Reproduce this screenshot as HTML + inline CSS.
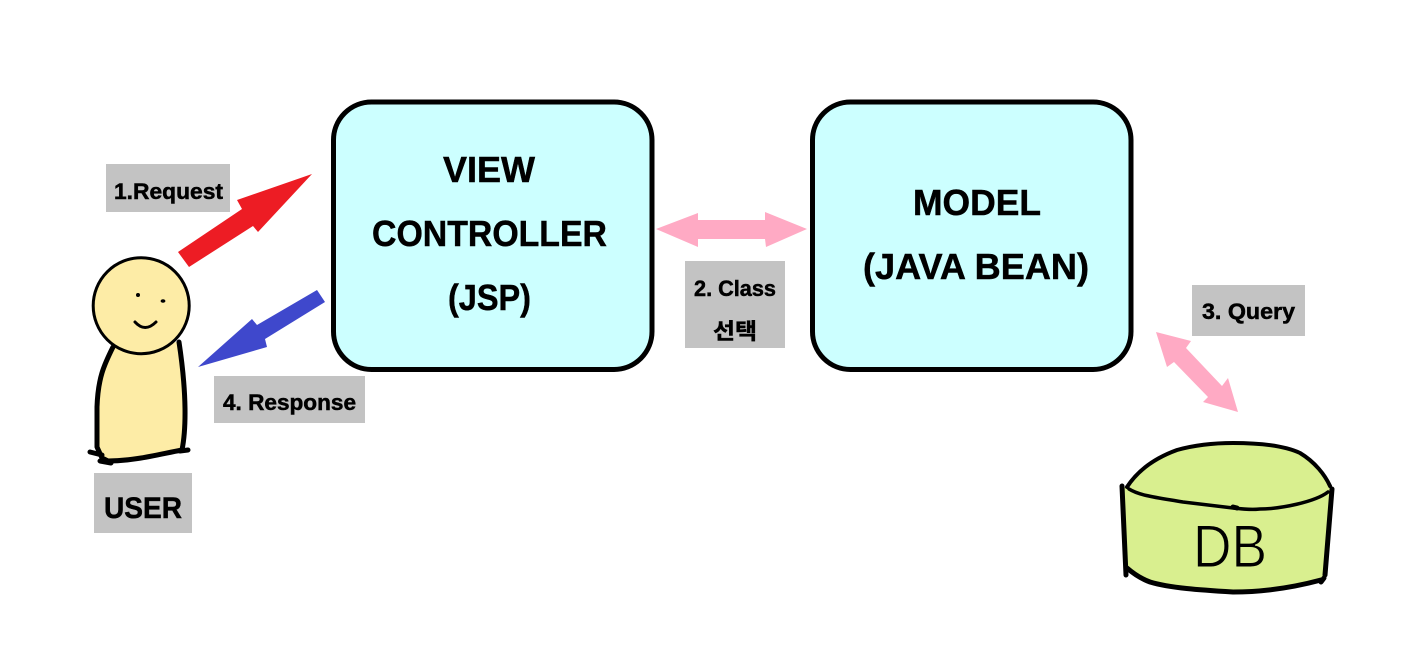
<!DOCTYPE html>
<html>
<head>
<meta charset="utf-8">
<style>
html,body{margin:0;padding:0;background:#fff;width:1416px;height:672px;overflow:hidden}
svg{display:block}
text{font-family:"Liberation Sans","Noto Sans CJK KR",sans-serif;font-weight:bold;fill:#000;stroke:#000;stroke-width:.5}
.ink{fill:none;stroke:#000;stroke-linecap:round;stroke-linejoin:round}
</style>
</head>
<body>
<svg width="1416" height="672" viewBox="0 0 1416 672" xmlns="http://www.w3.org/2000/svg">
<rect width="1416" height="672" fill="#fff"/>

<!-- main boxes -->
<rect x="333.5" y="102" width="318.5" height="267.5" rx="38" fill="#ccffff" stroke="#000" stroke-width="5"/>
<rect x="812.5" y="102" width="318.5" height="267.5" rx="38" fill="#ccffff" stroke="#000" stroke-width="5"/>

<text x="443" y="182" font-size="36" textLength="92" lengthAdjust="spacingAndGlyphs">VIEW</text>
<text x="372" y="246" font-size="36" textLength="235" lengthAdjust="spacingAndGlyphs">CONTROLLER</text>
<text x="448" y="310" font-size="36" textLength="83" lengthAdjust="spacingAndGlyphs">(JSP)</text>
<text x="913" y="215" font-size="36" textLength="128" lengthAdjust="spacingAndGlyphs">MODEL</text>
<text x="863" y="279" font-size="36" textLength="226" lengthAdjust="spacingAndGlyphs">(JAVA BEAN)</text>

<!-- arrows -->
<polygon fill="#ed1c24" points="178,252 242,209 237,200 312,174 258,232 253,226 189,267"/>
<polygon fill="#3f48cc" points="317,290 325,302 265,339 267,347 198,367 252,319 257,325"/>
<polygon fill="#ffaac4" points="656,229 698,213 698,220 765,220 765,212 807,229 766,247 765,239 698,239 698,247"/>
<polygon fill="#ffaac4" points="1156,332 1191,341 1186,348 1222,386 1228,378 1238,412 1203,402 1208,397 1174,362 1167,367"/>

<!-- labels -->
<rect x="106" y="164" width="124" height="48" fill="#c3c3c3"/>
<text x="114" y="199" font-size="22" textLength="109" lengthAdjust="spacingAndGlyphs">1.Request</text>
<rect x="214" y="376" width="151" height="47" fill="#c3c3c3"/>
<text x="223" y="410" font-size="22" textLength="133" lengthAdjust="spacingAndGlyphs">4. Response</text>
<rect x="94" y="473" width="98" height="60" fill="#c3c3c3"/>
<text x="104" y="518" font-size="30" textLength="78" lengthAdjust="spacingAndGlyphs">USER</text>
<rect x="1192" y="285" width="113" height="51" fill="#c3c3c3"/>
<text x="1202" y="319" font-size="22" textLength="93" lengthAdjust="spacingAndGlyphs">3. Query</text>
<rect x="685" y="261" width="100" height="87" fill="#c3c3c3"/>
<text x="694" y="296" font-size="22" textLength="82" lengthAdjust="spacingAndGlyphs">2. Class</text>
<text x="713" y="339" font-size="22" textLength="44" lengthAdjust="spacingAndGlyphs">선택</text>

<!-- user -->
<path d="M113,347 C104,365 98,378 97,407 L97,447 L108,461 L182,450 C185,430 187,400 178,342 Z" fill="#fdeca6"/>
<path class="ink" stroke-width="5" d="M113,347 C104,365 98,378 97,407 L97,447 L102,458 L108,461 C135,461 160,454 182,450 C186,430 187,395 179,342"/>
<path class="ink" stroke-width="5" d="M90,452 L102,455 M100,461 L111,463 M180,451 L188,450"/>
<circle cx="141.2" cy="305.7" r="48" fill="#fdeca6" stroke="#000" stroke-width="3"/>
<circle cx="138" cy="295" r="2" fill="#000"/>
<ellipse cx="163" cy="301" rx="2.4" ry="1.8" fill="#000"/>
<path class="ink" stroke-width="3" d="M135,322 Q145,333 156,322"/>

<!-- db -->
<path d="M1123,487 L1127,487 C1138,470 1155,458 1177,450 C1195,445 1215,443 1233,443 C1260,443 1285,446 1300,453 C1315,462 1325,475 1331,487 L1325,576 L1320,579 C1270,596 1190,596 1150,582 L1127,568 Z" fill="#d9ef8f"/>
<path class="ink" stroke-width="4" d="M1127,487 C1138,470 1155,458 1177,450 C1195,445 1215,443 1233,443 C1260,443 1285,446 1300,453 C1315,462 1325,475 1330,486"/>
<path class="ink" stroke-width="3.5" d="M1129,489 C1140,496 1160,498 1183,502 L1233,508 C1242,509 1250,510 1260,509 C1280,509 1315,502 1328,492"/>
<path class="ink" stroke-width="5" d="M1122,486 L1126,575 M1332,489 L1325,575 M1127,568 C1135,575 1142,579 1150,582 C1170,588 1200,590 1233,592 C1265,592 1295,587 1321,580"/>
<path class="ink" stroke-width="5" d="M1233,507 L1237,508 M1321,582 L1324,578"/>
<text x="1193" y="567" font-size="60" textLength="74" lengthAdjust="spacingAndGlyphs" style="font-weight:normal;stroke:#d9ef8f;stroke-width:1">DB</text>
</svg>
</body>
</html>
